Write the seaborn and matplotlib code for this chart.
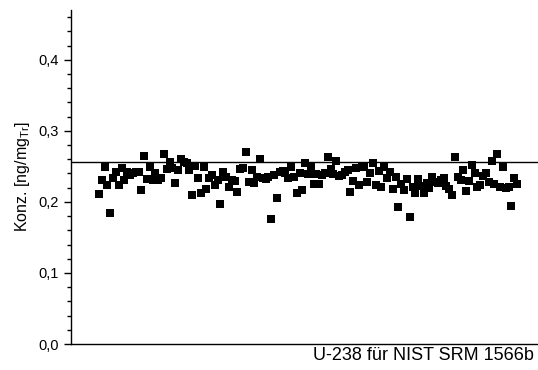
import numpy as np
import pandas as pd
import seaborn as sns
import matplotlib.pyplot as plt
from matplotlib.ticker import FuncFormatter, MultipleLocator

# U-238 concentrations for NIST SRM 1566b (ng/mg_Tr)
konz = [
    0.211, 0.231, 0.249, 0.224, 0.185, 0.234, 0.242, 0.224, 0.248, 0.231,
    0.242, 0.238, 0.241, 0.242, 0.242, 0.217, 0.265, 0.232, 0.249, 0.231,
    0.241, 0.231, 0.234, 0.268, 0.246, 0.256, 0.248, 0.227, 0.245, 0.261,
    0.256, 0.255, 0.245, 0.210, 0.251, 0.234, 0.213, 0.249, 0.218, 0.234,
    0.238, 0.224, 0.231, 0.197, 0.242, 0.235, 0.221, 0.231, 0.230, 0.214,
    0.246, 0.248, 0.270, 0.228, 0.245, 0.227, 0.235, 0.261, 0.234, 0.232,
    0.235, 0.176, 0.238, 0.206, 0.242, 0.244, 0.241, 0.234, 0.249, 0.235,
    0.213, 0.241, 0.217, 0.255, 0.239, 0.251, 0.225, 0.239, 0.225, 0.238,
    0.241, 0.263, 0.246, 0.239, 0.258, 0.237, 0.238, 0.242, 0.245, 0.214,
    0.230, 0.248, 0.224, 0.249, 0.251, 0.228, 0.241, 0.255, 0.224, 0.244,
    0.221, 0.249, 0.234, 0.242, 0.218, 0.235, 0.193, 0.225, 0.217, 0.232,
    0.179, 0.221, 0.213, 0.232, 0.223, 0.213, 0.227, 0.220, 0.235, 0.228,
    0.227, 0.231, 0.234, 0.223, 0.218, 0.210, 0.263, 0.235, 0.231, 0.245,
    0.215, 0.230, 0.252, 0.241, 0.221, 0.224, 0.237, 0.241, 0.228, 0.258,
    0.225, 0.268, 0.221, 0.249, 0.220, 0.221, 0.194, 0.234, 0.225,
]
referenzwert = 0.2555  # certified value line

df = pd.DataFrame({"probe": np.arange(1, len(konz) + 1), "konz": konz})

sns.set_style("ticks")
plt.rcParams["font.family"] = ["Liberation Sans", "DejaVu Sans"]
plt.rcParams["font.size"] = 10
for key in ["text.color", "axes.labelcolor", "xtick.color", "ytick.color"]:
    plt.rcParams[key] = "black"

fig = plt.figure(figsize=(5.38, 3.70), dpi=100)
ax = fig.add_axes([71 / 538, 26 / 370, 467 / 538, 334 / 370])

sns.scatterplot(data=df, x="probe", y="konz", marker="s", s=26,
                color="black", linewidth=0, ax=ax, legend=False)
ax.axhline(referenzwert, color="black", linewidth=1.0)

n = len(konz)
step = 418 / (n - 1)
ax.set_xlim(1 - 28 / step, n + 21 / step)
ax.set_ylim(0, 0.47)

ax.yaxis.set_major_locator(MultipleLocator(0.1))
ax.yaxis.set_minor_locator(MultipleLocator(0.02))
ax.yaxis.set_major_formatter(FuncFormatter(lambda v, p: f"{v:.1f}".replace(".", ",")))
ax.tick_params(axis="y", which="major", length=5, width=1, labelsize=10.5)
ax.tick_params(axis="y", which="minor", length=3, width=1)
ax.set_xticks([])

for side in ["top", "right"]:
    ax.spines[side].set_visible(False)
for side in ["left", "bottom"]:
    ax.spines[side].set_color("black")
    ax.spines[side].set_linewidth(1.0)

ax.set_ylabel(r"Konz. [ng/mg$_{\mathregular{Tr}}$]", fontsize=11.5, labelpad=5)
ax.set_xlabel("U-238 für NIST SRM 1566b", fontsize=13)
ax.xaxis.label.set_horizontalalignment("right")
ax.xaxis.label.set_verticalalignment("top")
ax.xaxis.set_label_coords(1 - 4 / 467, -3 / 334)

fig.savefig("out.png", dpi=100)
